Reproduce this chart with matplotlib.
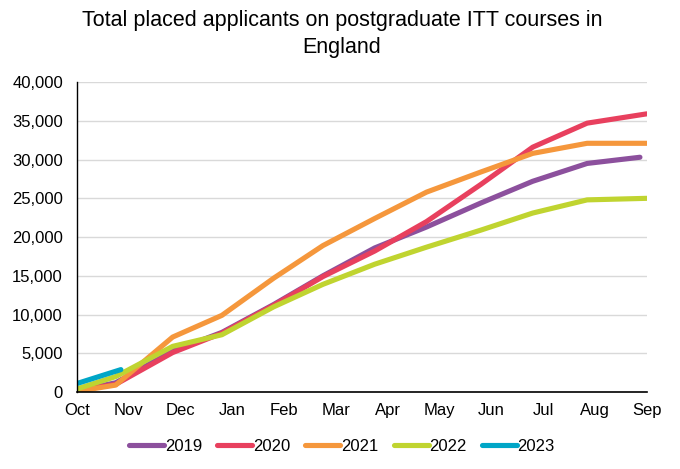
import matplotlib
matplotlib.use("Agg")
import matplotlib.pyplot as plt
from matplotlib.ticker import FuncFormatter

plt.rcParams['font.family'] = ['Liberation Sans', 'DejaVu Sans']

months = ["Oct", "Nov", "Dec", "Jan", "Feb", "Mar", "Apr", "May", "Jun", "Jul", "Aug", "Sep"]

# x positions in months since start of October (data points approx. monthly)
x_pts = [0, 0.75, 1.85, 2.8, 3.8, 4.75, 5.75, 6.75, 7.8, 8.8, 9.85, 11.0]

y2019 = [200, 1200, 5300, 7700, 11300, 15000, 18600, 21300, 24400, 27200, 29500, 30300]
x2019 = x_pts[:-1] + [10.87]
y2020 = [200, 1000, 5100, 7600, 11200, 14900, 18200, 22000, 26800, 31600, 34700, 35900]
y2021 = [100, 900, 7100, 9900, 14700, 18900, 22400, 25800, 28400, 30800, 32100, 32100]
y2022 = [400, 2000, 5900, 7400, 11000, 13900, 16500, 18700, 20900, 23100, 24800, 25000]
x2023 = [0, 0.85]
y2023 = [1100, 2900]

colors = {"2019": "#8c509d", "2020": "#e8405e", "2021": "#f5973c",
          "2022": "#c0d430", "2023": "#00a6c7"}

fig = plt.figure(figsize=(6.8, 4.69), dpi=100)
ax = fig.add_axes([0.113, 0.164, 0.838, 0.661])

series = [("2019", x2019, y2019), ("2020", x_pts, y2020), ("2021", x_pts, y2021),
          ("2022", x_pts, y2022), ("2023", x2023, y2023)]
for name, xs, ys in series:
    ax.plot(xs, ys, color=colors[name], lw=3.7, solid_capstyle='round',
            solid_joinstyle='round', label=name)

ax.set_xlim(0, 11)
ax.set_ylim(0, 40000)
ax.set_xticks(range(12))
ax.set_xticklabels(months)
ax.set_yticks(range(0, 40001, 5000))
ax.yaxis.set_major_formatter(FuncFormatter(lambda v, p: f"{int(v):,}"))
ax.tick_params(axis='both', length=0, labelsize=12, colors='black')
ax.tick_params(axis='x', pad=8)
ax.tick_params(axis='y', pad=10)
ax.grid(axis='y', color='#d9d9d9', lw=1)
ax.set_axisbelow(True)
for s in ['top', 'right']:
    ax.spines[s].set_visible(False)
ax.spines['left'].set_color('black')
ax.spines['bottom'].set_color('black')
ax.spines['left'].set_linewidth(1)
ax.spines['bottom'].set_linewidth(1.2)

fig.text(0.503, 1 - 10 / 469, "Total placed applicants on postgraduate ITT courses in\nEngland",
         fontsize=15.5, ha='center', va='top', linespacing=1.35)

leg = fig.legend(loc='lower center', bbox_to_anchor=(0.503, 0.0), ncol=5, frameon=False,
                 fontsize=12, handlelength=2.1, handletextpad=0.05, columnspacing=0.9)
fig.savefig("out.png", dpi=100)
